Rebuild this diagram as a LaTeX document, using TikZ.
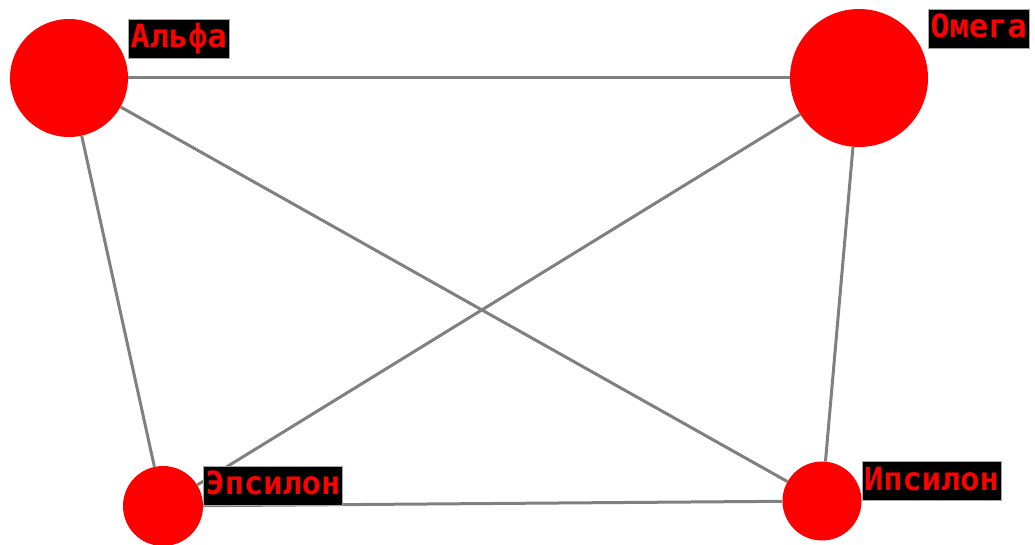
\documentclass[tikz,border=0pt]{standalone}
\usepackage{fontspec}
\newfontfamily\lblfont{DejaVu Sans Mono}
\definecolor{edgegray}{HTML}{808080}
\definecolor{nodered}{HTML}{FF0000}
\begin{document}
\begin{tikzpicture}[x=1pt,y=-1pt,
  vertex/.style={circle,fill=nodered,inner sep=0pt},
  lbl/.style={anchor=north west,fill=black,draw=gray!70,line width=0.8pt,text=nodered,
    font=\lblfont\bfseries\fontsize{32}{32}\selectfont,inner xsep=2pt,inner ysep=0pt,
    minimum height=39pt,text height=24pt,text depth=6pt},
  edge/.style={draw=edgegray,line width=3pt}]
\useasboundingbox[fill=white] (0,0) rectangle (1035,545);
\node[vertex,minimum size=118pt] (alfa) at (69,78) {};
\node[vertex,minimum size=138pt] (omega) at (859,78) {};
\node[vertex,minimum size=80pt] (eps) at (163,506) {};
\node[vertex,minimum size=79pt] (ips) at (822,501) {};
\draw[edge] (alfa) -- (omega);
\draw[edge] (alfa) -- (ips);
\draw[edge] (alfa) -- (eps);
\draw[edge] (omega) -- (eps);
\draw[edge] (omega) -- (ips);
\draw[edge] (eps) -- (ips);
\node[lbl] (alfaL) at (alfa.east |- alfa.north) {Альфа};
\node[lbl] (omegaL) at (omega.east |- omega.north) {Омега};
\node[lbl] (epsL) at (eps.east |- eps.north) {Эпсилон};
\node[lbl] (ipsL) at (ips.east |- ips.north) {Ипсилон};
\end{tikzpicture}
\end{document}
